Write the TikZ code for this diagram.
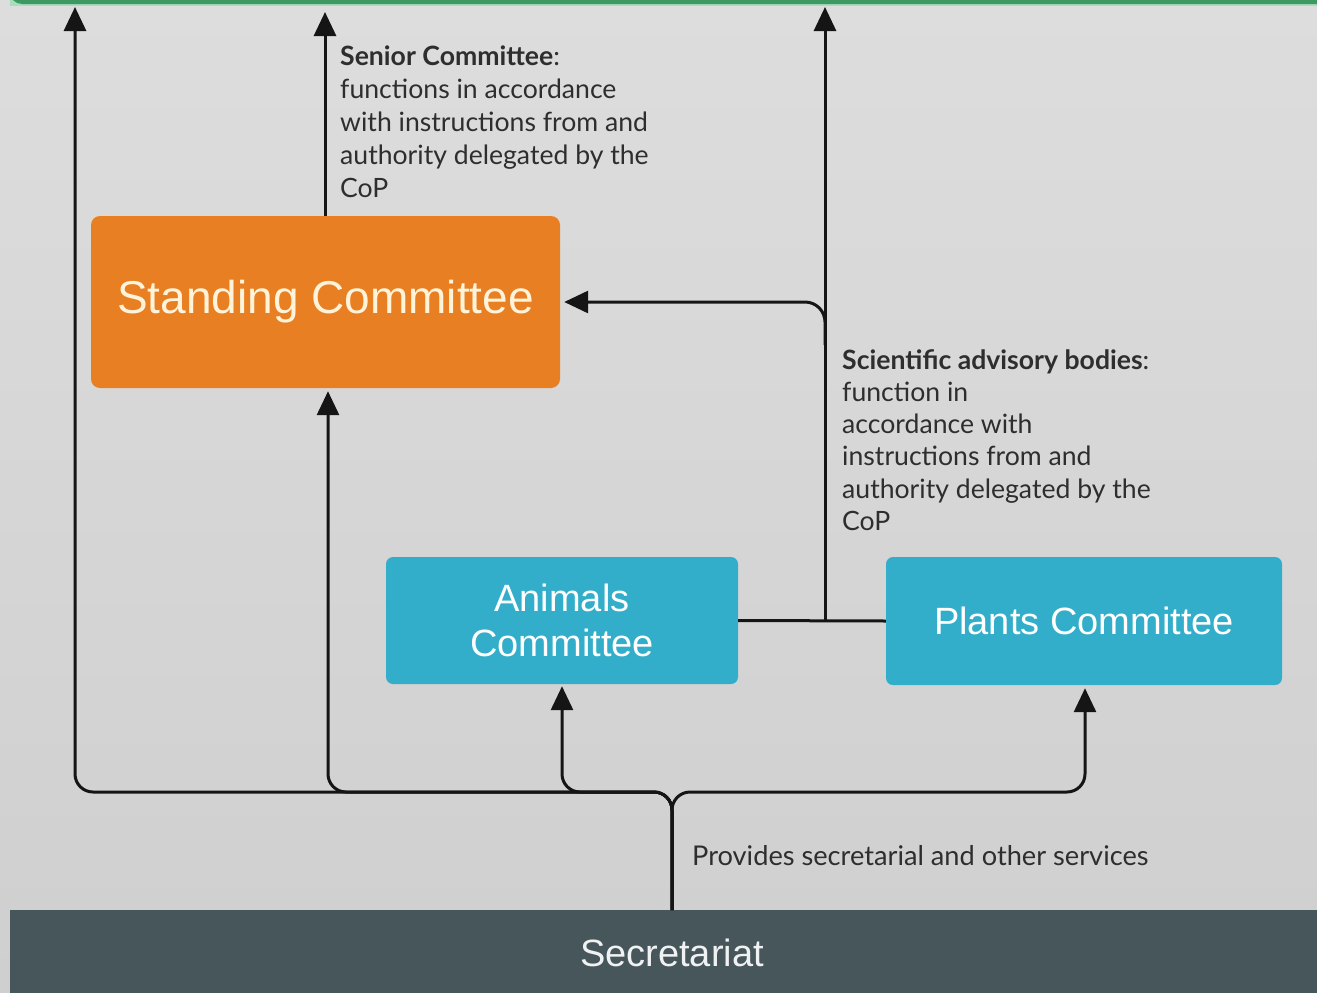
\documentclass[tikz,border=0pt]{standalone}
\usepackage{fontspec}
\setmainfont{Liberation Sans}
\newfontfamily\lato{Lato}
\usetikzlibrary{arrows.meta,calc}
\definecolor{bgtop}{HTML}{DDDDDD}
\definecolor{bgbot}{HTML}{CFCFCF}
\definecolor{orangebox}{HTML}{E87F22}
\definecolor{tealbox}{HTML}{33AECA}
\definecolor{secbox}{HTML}{46565B}
\definecolor{topgreen}{HTML}{3E9862}
\definecolor{lightgreen}{HTML}{A6DDBB}
\definecolor{creamtxt}{HTML}{FFF3DA}
\definecolor{labeltxt}{HTML}{2E2E2E}
\definecolor{linecol}{HTML}{151515}
\tikzset{
  orbox/.style={rectangle, rounded corners=9pt, fill=orangebox, inner sep=0pt,
    text=creamtxt, font=\fontsize{46}{50}\selectfont},
  tlbox/.style={rectangle, rounded corners=7pt, fill=tealbox, inner sep=0pt,
    text=white, align=center, font=\fontsize{38}{45}\selectfont},
  sebox/.style={rectangle, fill=secbox, inner sep=0pt, text=white!92!secbox,
    font=\fontsize{38}{45}\selectfont},
  lbl/.style={anchor=north west, inner sep=0pt, align=left, text=labeltxt,
    font=\lato\fontsize{26.6}{33}\selectfont},
  conn/.style={draw=linecol, line width=3pt},
  arr/.style={conn, -{Triangle[length=24pt,width=22pt]}},
}
\begin{document}
\begin{tikzpicture}[x=1pt,y=-1pt]
\useasboundingbox (0,0) rectangle (1317,993);
\shade[top color=bgtop, bottom color=bgbot] (0,0) rectangle (1317,993);
% top green band
\fill[lightgreen] (10,-30) rectangle (1340,6);
\fill[topgreen, rounded corners=12pt] (10,-30) rectangle (1340,4);

% nodes
\node[orbox, minimum width=469pt, minimum height=172pt] (stand) at (325.5,302) {Standing Committee};
\node[tlbox, minimum width=352pt, minimum height=127pt] (anim) at (562,620.5) {Animals\\Committee};
\node[tlbox, minimum width=396pt, minimum height=128pt] (plant) at (1084,621) {Plants Committee};
\node[sebox, minimum width=1320pt, minimum height=86pt] (secr) at (670,953) {\hspace*{4pt}Secretariat};

\coordinate (sj) at (672,910);
\coordinate (fork) at (672,792);
\coordinate (topL) at (75,7);
\coordinate (topM) at (325,12);
\coordinate (topR) at (825,7);
\coordinate (mj) at (825,620);
\coordinate (br) at (825,345);

% connectors from secretariat
\draw[arr, rounded corners=18pt] (sj) -- (fork) -| (topL);
\draw[arr, rounded corners=18pt, shorten >=3pt] (sj) -- (fork) -| ($(stand.south)+(2.5,0)$);
\draw[arr, rounded corners=18pt, shorten >=2pt] (sj) -- (fork) -| (anim.south);
\draw[arr, rounded corners=18pt, shorten >=3pt] (sj) -- (fork) -| ($(plant.south)+(1,0)$);

% standing committee up
\draw[arr] (stand.north -| topM) -- (topM);

% scientific bodies
\draw[conn] (anim.east) -- (plant.west);
\draw[arr] (mj) -- (topR);
\draw[arr, rounded corners=20pt, shorten >=4pt] (br) |- (stand.east);

% labels
\node[lbl] (senior) at (340,46) {\textbf{Senior Committee}:\\functions in accordance\\with instructions from and\\authority delegated by the\\CoP};
\node[lbl, font=\lato\fontsize{26.6}{32.3}\selectfont] (sci) at (842,349) {\textbf{Scientific advisory bodies}:\\function in\\accordance with\\instructions from and\\authority delegated by the\\CoP};
\node[lbl, font=\lato\fontsize{27.2}{33}\selectfont] (prov) at (692,845) {Provides secretarial and other services};
\end{tikzpicture}
\end{document}
